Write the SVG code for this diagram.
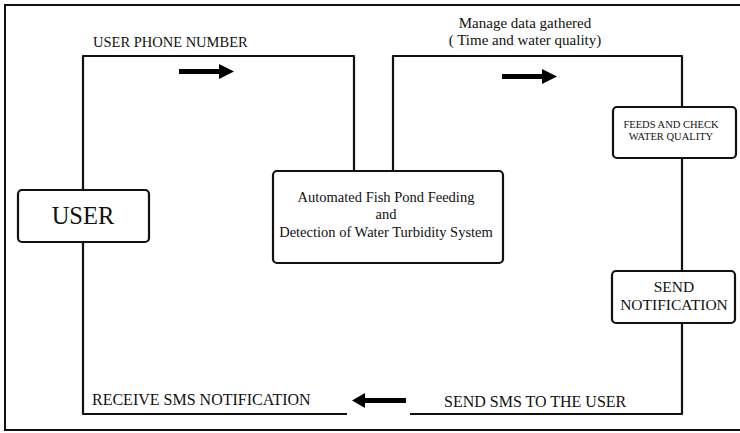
<svg xmlns="http://www.w3.org/2000/svg" width="740" height="433" viewBox="0 0 740 433">
<defs>
<style>
.t{font-family:"Liberation Serif","Times New Roman",serif;fill:#111}
.box{fill:#fff;stroke:#111;stroke-width:2.2}
.ln{fill:none;stroke:#111;stroke-width:2.2;stroke-linejoin:round}
.ar{fill:#000}
</style>
</defs>
<rect width="740" height="433" fill="#fff"/>
<path d="M741,5 H5 V430 H741" fill="none" stroke="#111" stroke-width="2"/>
<g id="connectors">
<path class="ln" d="M83,190 V56 H354 V171"/>
<path class="ln" d="M393,171 V56 H682 V107"/>
<path class="ln" d="M682,158 V271"/>
<path class="ln" d="M682,323 V414 H410"/>
<path class="ln" d="M83,242 V414 H347"/>
<g id="arrow1"><rect class="ar" x="179" y="69" width="42" height="5"/><polygon class="ar" points="219,64 234,71.5 219,79"/></g>
<g id="arrow2"><rect class="ar" x="502" y="74" width="42" height="5"/><polygon class="ar" points="542,69 557,76.5 542,84"/></g>
<g id="arrow3"><rect class="ar" x="363" y="398" width="43" height="5"/><polygon class="ar" points="365,393 352,400.5 365,408"/></g>
<text class="t" x="93" y="47" font-size="14.5">USER PHONE NUMBER</text>
<text class="t" x="525" y="27.5" font-size="15" text-anchor="middle">Manage data gathered</text>
<text class="t" x="525" y="44.5" font-size="15" text-anchor="middle">( Time and water quality)</text>
<text class="t" x="92" y="405" font-size="16">RECEIVE SMS NOTIFICATION</text>
<text class="t" x="444" y="407" font-size="16">SEND SMS TO THE USER</text>
</g>
<g id="user">
<rect class="box" x="18" y="190" width="131" height="52" rx="4"/>
<text class="t" x="83" y="224" font-size="24.5" text-anchor="middle">USER</text>
</g>
<g id="system">
<rect class="box" x="273" y="171" width="230" height="92" rx="4"/>
<text class="t" x="386" y="202" font-size="14.5" text-anchor="middle">Automated Fish Pond Feeding</text>
<text class="t" x="386" y="219" font-size="14.5" text-anchor="middle">and</text>
<text class="t" x="386" y="237" font-size="14.5" text-anchor="middle">Detection of Water Turbidity System</text>
</g>
<g id="feeds">
<rect class="box" x="613" y="107" width="123" height="51" rx="4"/>
<text class="t" x="671" y="128" font-size="10.5" text-anchor="middle">FEEDS AND CHECK</text>
<text class="t" x="671" y="140" font-size="10.5" text-anchor="middle">WATER QUALITY</text>
</g>
<g id="send">
<rect class="box" x="612" y="271" width="123" height="52" rx="4"/>
<text class="t" x="674" y="292" font-size="15.5" text-anchor="middle">SEND</text>
<text class="t" x="674" y="310" font-size="15.5" text-anchor="middle">NOTIFICATION</text>
</g>
</svg>
